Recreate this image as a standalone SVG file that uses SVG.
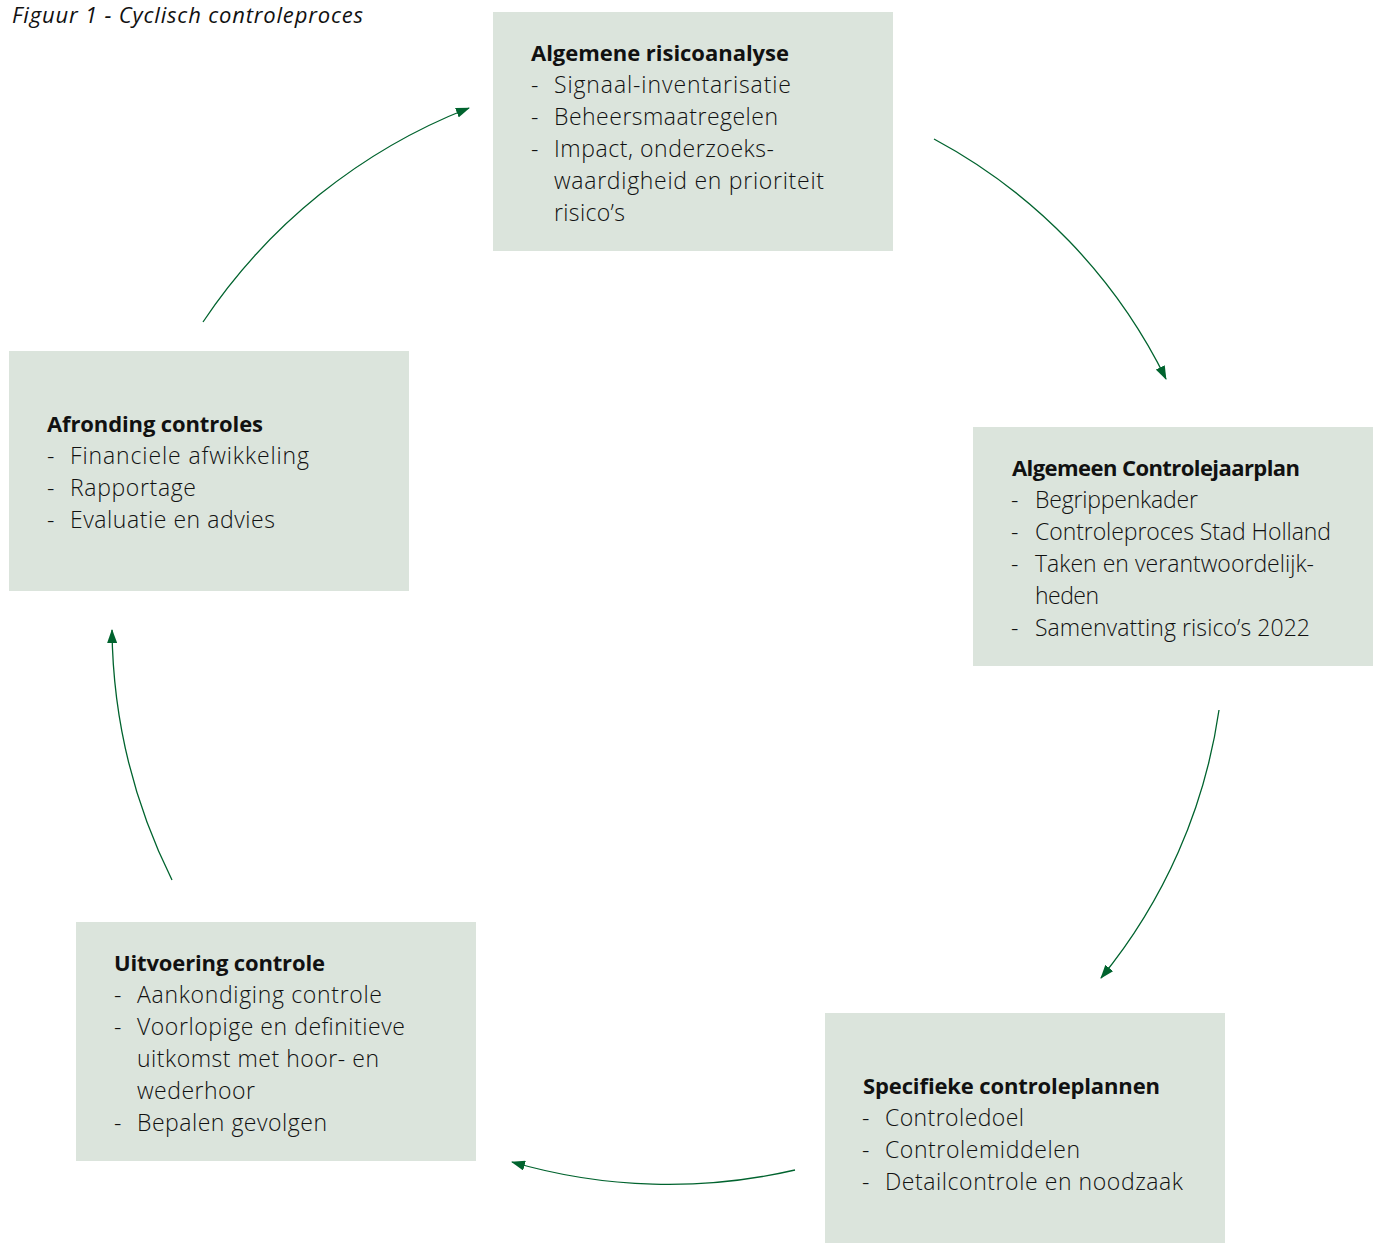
<svg xmlns="http://www.w3.org/2000/svg" width="1378" height="1243" viewBox="0 0 1378 1243">
<style>
.box{fill:#dbe4dc}
.t{font-family:"Open Sans","Noto Sans",sans-serif;font-size:23px;fill:#111}
.h{font-weight:700;font-size:22px}
.b{font-weight:300}
.cap{font-family:"Open Sans","Noto Sans",sans-serif;font-size:22px;font-style:italic;font-weight:400;fill:#111}
.c{fill:none;stroke:#00632e;stroke-width:1.3}
</style>
<defs>
<marker id="ah" viewBox="0 0 14 10" refX="13" refY="5" markerWidth="14" markerHeight="10" markerUnits="userSpaceOnUse" orient="auto">
<path d="M0,0 L14,5 L0,10 Z" fill="#00632e"/>
</marker>
</defs>
<text class="cap" x="12" y="23" textLength="351" lengthAdjust="spacing">Figuur 1 - Cyclisch controleproces</text>
<g id="connectors">
<path class="c" d="M934,139 A545,545 0 0 1 1166,379" marker-end="url(#ah)"/>
<path class="c" d="M1219,710 A545,545 0 0 1 1101,978" marker-end="url(#ah)"/>
<path class="c" d="M795,1170 A560,560 0 0 1 512,1162" marker-end="url(#ah)"/>
<path class="c" d="M172,880 A575,575 0 0 1 112,630" marker-end="url(#ah)"/>
<path class="c" d="M203,322 A570,570 0 0 1 469,108" marker-end="url(#ah)"/>
</g>
<g id="node1">
<rect class="box" x="493" y="12" width="400" height="239"/>
<text class="t h" x="531" y="61" textLength="258" lengthAdjust="spacing">Algemene risicoanalyse</text>
<text class="t b" x="531" y="93">-</text><text class="t b" x="554" y="93" textLength="237" lengthAdjust="spacing">Signaal-inventarisatie</text>
<text class="t b" x="531" y="125">-</text><text class="t b" x="554" y="125" textLength="224" lengthAdjust="spacing">Beheersmaatregelen</text>
<text class="t b" x="531" y="157">-</text><text class="t b" x="554" y="157" textLength="220" lengthAdjust="spacing">Impact, onderzoeks-</text>
<text class="t b" x="554" y="189" textLength="270" lengthAdjust="spacing">waardigheid en prioriteit</text>
<text class="t b" x="554" y="221" textLength="71" lengthAdjust="spacing">risico’s</text>
</g>
<g id="node2">
<rect class="box" x="973" y="427" width="400" height="239"/>
<text class="t h" x="1012" y="476" textLength="288" lengthAdjust="spacing">Algemeen Controlejaarplan</text>
<text class="t b" x="1011" y="508">-</text><text class="t b" x="1035" y="508" textLength="163" lengthAdjust="spacing">Begrippenkader</text>
<text class="t b" x="1011" y="540">-</text><text class="t b" x="1035" y="540" textLength="296" lengthAdjust="spacing">Controleproces Stad Holland</text>
<text class="t b" x="1011" y="572">-</text><text class="t b" x="1035" y="572" textLength="279" lengthAdjust="spacing">Taken en verantwoordelijk-</text>
<text class="t b" x="1035" y="604" textLength="64" lengthAdjust="spacing">heden</text>
<text class="t b" x="1011" y="636">-</text><text class="t b" x="1035" y="636" textLength="275" lengthAdjust="spacing">Samenvatting risico’s 2022</text>
</g>
<g id="node3">
<rect class="box" x="825" y="1013" width="400" height="230"/>
<text class="t h" x="863" y="1094" textLength="297" lengthAdjust="spacing">Specifieke controleplannen</text>
<text class="t b" x="862" y="1126">-</text><text class="t b" x="885" y="1126" textLength="139" lengthAdjust="spacing">Controledoel</text>
<text class="t b" x="862" y="1158">-</text><text class="t b" x="885" y="1158" textLength="195" lengthAdjust="spacing">Controlemiddelen</text>
<text class="t b" x="862" y="1190">-</text><text class="t b" x="885" y="1190" textLength="298" lengthAdjust="spacing">Detailcontrole en noodzaak</text>
</g>
<g id="node4">
<rect class="box" x="76" y="922" width="400" height="239"/>
<text class="t h" x="114" y="971" textLength="211" lengthAdjust="spacing">Uitvoering controle</text>
<text class="t b" x="114" y="1003">-</text><text class="t b" x="137" y="1003" textLength="245" lengthAdjust="spacing">Aankondiging controle</text>
<text class="t b" x="114" y="1035">-</text><text class="t b" x="137" y="1035" textLength="268" lengthAdjust="spacing">Voorlopige en definitieve</text>
<text class="t b" x="137" y="1067" textLength="242" lengthAdjust="spacing">uitkomst met hoor- en</text>
<text class="t b" x="137" y="1099" textLength="118" lengthAdjust="spacing">wederhoor</text>
<text class="t b" x="114" y="1131">-</text><text class="t b" x="137" y="1131" textLength="190" lengthAdjust="spacing">Bepalen gevolgen</text>
</g>
<g id="node5">
<rect class="box" x="9" y="351" width="400" height="240"/>
<text class="t h" x="47" y="432" textLength="216" lengthAdjust="spacing">Afronding controles</text>
<text class="t b" x="47" y="464">-</text><text class="t b" x="70" y="464" textLength="239" lengthAdjust="spacing">Financiele afwikkeling</text>
<text class="t b" x="47" y="496">-</text><text class="t b" x="70" y="496" textLength="126" lengthAdjust="spacing">Rapportage</text>
<text class="t b" x="47" y="528">-</text><text class="t b" x="70" y="528" textLength="205" lengthAdjust="spacing">Evaluatie en advies</text>
</g>
</svg>
